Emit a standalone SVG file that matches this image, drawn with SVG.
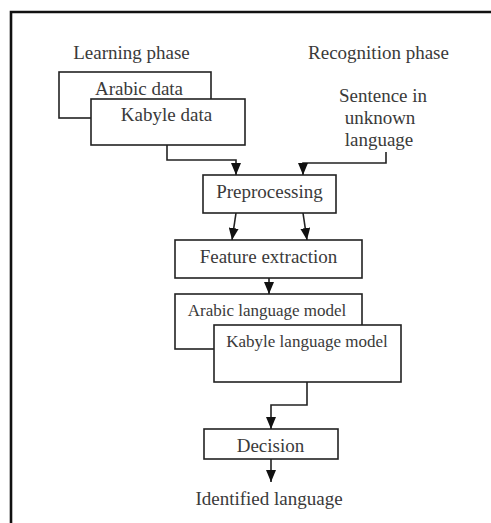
<svg xmlns="http://www.w3.org/2000/svg" width="491" height="523" viewBox="0 0 491 523">
  <style>
    .box { fill: #ffffff; stroke: #222222; stroke-width: 1.6; }
    .lbl { font-family: "Liberation Serif", "Times New Roman", serif; font-size: 19px; fill: #3a3a3a; text-anchor: middle; }
    .sm { font-size: 17px; }
    .wire { fill: none; stroke: #222222; stroke-width: 1.6; marker-end: url(#tip); }
    .frame { fill: none; stroke: #111111; stroke-width: 2.6; }
  </style>
  <defs>
    <marker id="tip" markerUnits="userSpaceOnUse" markerWidth="12" markerHeight="10" refX="12" refY="5" orient="auto" viewBox="0 0 12 10">
      <path d="M0,0 L12,5 L0,10 Z" fill="#111111"/>
    </marker>
  </defs>

  <rect width="491" height="523" fill="#ffffff"/>
  <!-- page frame -->
  <path class="frame" d="M11,523 V12 H491"/>

  <!-- phase headings -->
  <text class="lbl" x="131.5" y="59">Learning phase</text>
  <text class="lbl" x="378.5" y="59">Recognition phase</text>

  <g id="arabic-data">
    <rect class="box" x="59" y="72" width="152" height="46"/>
    <text class="lbl" x="139" y="95">Arabic data</text>
  </g>
  <g id="kabyle-data">
    <rect class="box" x="91" y="99" width="154" height="46"/>
    <text class="lbl" x="166.5" y="121">Kabyle data</text>
  </g>

  <g id="sentence">
    <text class="lbl" x="383" y="102">Sentence in</text>
    <text class="lbl" x="380" y="124">unknown</text>
    <text class="lbl" x="379" y="146">language</text>
  </g>

  <g id="preprocessing">
    <rect class="box" x="203" y="175" width="133" height="38"/>
    <text class="lbl" x="269.5" y="198">Preprocessing</text>
  </g>

  <g id="feature-extraction">
    <rect class="box" x="175" y="240" width="187" height="38"/>
    <text class="lbl" x="268.5" y="263">Feature extraction</text>
  </g>

  <g id="arabic-model">
    <rect class="box" x="175" y="294" width="187" height="55"/>
    <text class="lbl sm" x="267" y="316">Arabic language model</text>
  </g>
  <g id="kabyle-model">
    <rect class="box" x="214" y="325" width="187" height="57"/>
    <text class="lbl sm" x="307" y="347">Kabyle language model</text>
  </g>

  <g id="decision">
    <rect class="box" x="204" y="429" width="134" height="30"/>
    <text class="lbl" x="270.5" y="452">Decision</text>
  </g>

  <g id="identified">
    <text class="lbl" x="269" y="505">Identified language</text>
  </g>

  <g id="connectors">
    <path class="wire" d="M167,145 V160 H236 V175"/>
    <path class="wire" d="M386,152 V163 H303 V175"/>
    <path class="wire" d="M236,213 L232,240"/>
    <path class="wire" d="M303,213 L307,240"/>
    <path class="wire" d="M269,278 V294"/>
    <path class="wire" d="M307,382 V405 H271 V429"/>
    <path class="wire" d="M271,459 V482"/>
  </g>
</svg>
